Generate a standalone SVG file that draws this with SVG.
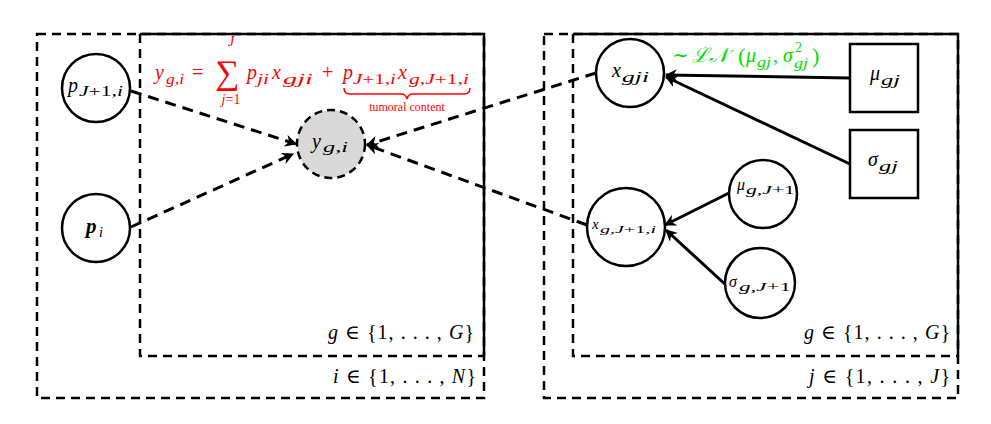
<svg xmlns="http://www.w3.org/2000/svg" width="991" height="424" viewBox="0 0 991 424">
<defs>
<style>
.bg{fill:#fff}
.box{fill:none;stroke:#000;stroke-width:2.5}
.dsh{stroke-dasharray:9,6}
.node{fill:#fff;stroke:#000;stroke-width:2.5}
.obs{fill:#d9d9d9;stroke:#000;stroke-width:2.5;stroke-dasharray:8,5}
.m{font-family:"Liberation Serif","DejaVu Serif",serif;font-style:italic;fill:#000}
.u{font-style:normal}
.red{fill:#ff0000}
.grn{fill:#00dd00}
.e{fill:none;stroke:#000;stroke-width:3}
.ed{stroke-dasharray:11,7}
</style>
<marker id="ah" viewBox="0 0 10 10" refX="9" refY="5" markerWidth="4" markerHeight="4" orient="auto" markerUnits="strokeWidth">
<path d="M0,0 L10,5 L0,10 L3,5 z" fill="#000"/>
</marker>
</defs>
<rect class="bg" x="0" y="0" width="991" height="424"/>

<g id="plates">
<rect class="box dsh" x="37" y="34" width="447" height="364"/>
<path class="box dsh" d="M140,34 V356 H484"/>
<path class="box" d="M140,34 H484 V356"/>
<rect class="box dsh" x="544" y="34" width="414" height="364"/>
<path class="box dsh" d="M573,34 V356 H958"/>
<path class="box" d="M573,34 H958 V356"/>
<text class="m" font-size="20" x="328" y="339" textLength="146" lengthAdjust="spacing">g <tspan class="u">∈ {1, . . . ,</tspan> G<tspan class="u">}</tspan></text>
<text class="m" font-size="20" x="333" y="383" textLength="143" lengthAdjust="spacing">i <tspan class="u">∈ {1, . . . ,</tspan> N<tspan class="u">}</tspan></text>
<text class="m" font-size="20" x="804" y="339" textLength="146" lengthAdjust="spacing">g <tspan class="u">∈ {1, . . . ,</tspan> G<tspan class="u">}</tspan></text>
<text class="m" font-size="20" x="809" y="383" textLength="141" lengthAdjust="spacing">j <tspan class="u">∈ {1, . . . ,</tspan> J<tspan class="u">}</tspan></text>
</g>

<g id="connectors">
<line class="e ed" x1="131" y1="91" x2="296" y2="144" marker-end="url(#ah)"/>
<line class="e ed" x1="131" y1="227" x2="293" y2="154" marker-end="url(#ah)"/>
<line class="e ed" x1="596" y1="73" x2="367" y2="145" marker-end="url(#ah)"/>
<line class="e ed" x1="587" y1="225" x2="367" y2="145" marker-end="url(#ah)"/>
<line class="e" x1="850" y1="78" x2="666" y2="75" marker-end="url(#ah)"/>
<line class="e" x1="850" y1="164" x2="666" y2="77" marker-end="url(#ah)"/>
<line class="e" x1="729" y1="193" x2="665" y2="225" marker-end="url(#ah)"/>
<line class="e" x1="727" y1="286" x2="666" y2="230" marker-end="url(#ah)"/>
</g>

<g id="equation">
<text class="m red" font-size="20" x="155" y="79">y</text>
<text class="m red" font-size="14" x="166" y="84" textLength="18" lengthAdjust="spacingAndGlyphs">g,i</text>
<text class="m red u" font-size="20" x="192" y="79">=</text>
<text class="m red u" font-size="34" x="227" y="84" text-anchor="middle">∑</text>
<text class="m red" font-size="14" x="231" y="46" text-anchor="middle">J</text>
<text class="m red" font-size="14" x="231" y="104" text-anchor="middle">j<tspan class="u">=1</tspan></text>
<text class="m red" font-size="20" x="247" y="79">p</text>
<text class="m red" font-size="14" x="257" y="84" textLength="12" lengthAdjust="spacingAndGlyphs">ji</text>
<text class="m red" font-size="20" x="272" y="79">x</text>
<text class="m red" font-size="14" x="283" y="84" textLength="30" lengthAdjust="spacingAndGlyphs">gji</text>
<text class="m red u" font-size="20" x="322" y="79">+</text>
<text class="m red" font-size="20" x="343" y="79">p</text>
<text class="m red" font-size="14" x="353" y="84" textLength="43" lengthAdjust="spacingAndGlyphs">J<tspan class="u">+1,</tspan>i</text>
<text class="m red" font-size="20" x="398" y="79">x</text>
<text class="m red" font-size="14" x="409" y="84" textLength="60" lengthAdjust="spacingAndGlyphs">g,J<tspan class="u">+1,</tspan>i</text>
<path d="M344,88 Q344,94 350,94 H401 Q406,94 407,99 Q408,94 413,94 H464 Q470,94 470,88" fill="none" stroke="#ff0000" stroke-width="1.5"/>
<text x="407" y="111" font-family="Liberation Serif,serif" font-size="12" fill="#ff0000" text-anchor="middle">tumoral content</text>
</g>

<g id="dist">
<text class="m grn u" font-size="20" x="672" y="62">∼</text>
<text class="m grn" font-size="20" x="692" y="62">ℒ𝒩</text>
<text class="m grn u" font-size="22" x="738" y="63">(</text>
<text class="m grn" font-size="20" x="746" y="62">μ</text>
<text class="m grn" font-size="14" x="757" y="67" textLength="14" lengthAdjust="spacingAndGlyphs">gj</text>
<text class="m grn u" font-size="20" x="773" y="62">,</text>
<text class="m grn" font-size="20" x="783" y="62">σ</text>
<text class="m grn u" font-size="14" x="795" y="52">2</text>
<text class="m grn" font-size="14" x="794" y="68" textLength="14" lengthAdjust="spacingAndGlyphs">gj</text>
<text class="m grn u" font-size="22" x="812" y="63">)</text>
</g>

<g id="node-pJ1">
<circle class="node" cx="96" cy="88" r="34"/>
<text class="m" font-size="20" x="68" y="92">p</text>
<text class="m" font-size="14" x="79" y="96" textLength="44" lengthAdjust="spacingAndGlyphs">J<tspan class="u">+1,</tspan>i</text>
</g>
<g id="node-pi">
<circle class="node" cx="96" cy="228" r="34"/>
<text class="m" font-size="21" font-weight="bold" x="86" y="233">p</text>
<text class="m" font-size="14" x="99" y="237">i</text>
</g>
<g id="node-y">
<circle class="obs" cx="331" cy="144" r="34"/>
<text class="m" font-size="20" x="312" y="148">y</text>
<text class="m" font-size="14" x="323" y="152" textLength="25" lengthAdjust="spacingAndGlyphs">g,i</text>
</g>
<g id="node-xgji">
<circle class="node" cx="630" cy="73" r="34"/>
<text class="m" font-size="20" x="612" y="77">x</text>
<text class="m" font-size="14" x="622" y="82" textLength="27" lengthAdjust="spacingAndGlyphs">gji</text>
</g>
<g id="node-xgJ1">
<circle class="node" cx="626" cy="227" r="39"/>
<text class="m" font-size="15" x="592" y="229">x</text>
<text class="m" font-size="11" x="600" y="233" textLength="56" lengthAdjust="spacingAndGlyphs">g,J<tspan class="u">+1,</tspan>i</text>
</g>
<g id="node-mugJ1">
<circle class="node" cx="763" cy="194" r="34"/>
<text class="m" font-size="16" x="737" y="190">μ</text>
<text class="m" font-size="12" x="746" y="194" textLength="49" lengthAdjust="spacingAndGlyphs">g,J<tspan class="u">+1</tspan></text>
</g>
<g id="node-sigmagJ1">
<circle class="node" cx="760" cy="283" r="35"/>
<text class="m" font-size="16" x="729" y="287">σ</text>
<text class="m" font-size="12" x="739" y="291" textLength="52" lengthAdjust="spacingAndGlyphs">g,J<tspan class="u">+1</tspan></text>
</g>
<g id="node-mugj">
<rect class="node" x="850" y="44" width="68" height="68"/>
<text class="m" font-size="20" x="870" y="80">μ</text>
<text class="m" font-size="14" x="881" y="85" textLength="19" lengthAdjust="spacingAndGlyphs">gj</text>
</g>
<g id="node-sigmagj">
<rect class="node" x="850" y="130" width="68" height="68"/>
<text class="m" font-size="20" x="868" y="166">σ</text>
<text class="m" font-size="14" x="879" y="171" textLength="19" lengthAdjust="spacingAndGlyphs">gj</text>
</g>
</svg>
